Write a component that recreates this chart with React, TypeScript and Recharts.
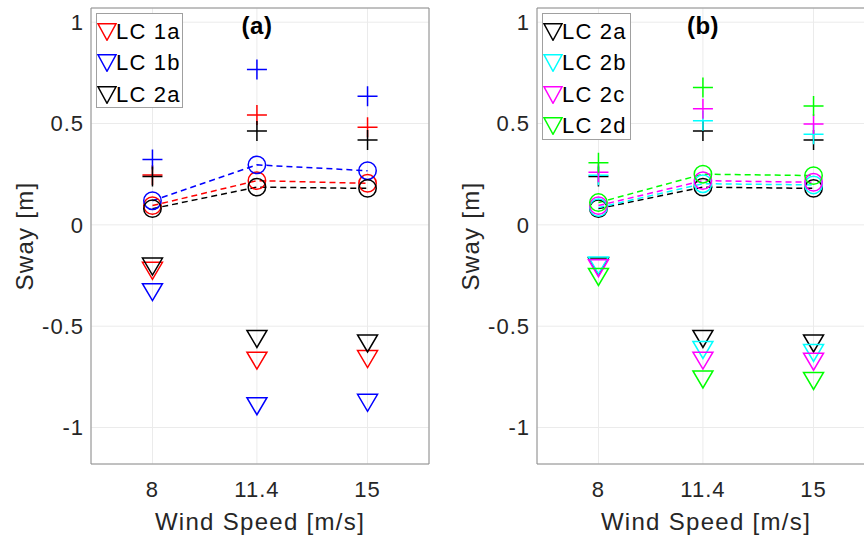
import { useMemo } from "react";
import {
  ComposedChart,
  Line,
  Scatter,
  XAxis,
  YAxis,
  CartesianGrid,
  ReferenceArea,
  Legend,
} from "recharts";

// wind speeds (x positions) and axis ticks
const speeds = [8, 11.4, 15];
const xTicks = [8, 11.4, 15];
const yTicks = [-1, -0.5, 0, 0.5, 1];

// LC 1a
const lc1aMean = [0.095, 0.218, 0.205];
const lc1aMax = [0.246, 0.542, 0.481];
const lc1aMin = [-0.227, -0.67, -0.662];
// LC 1b
const lc1bMean = [0.119, 0.296, 0.267];
const lc1bMax = [0.322, 0.767, 0.635];
const lc1bMin = [-0.332, -0.895, -0.878];
// LC 2a
const lc2aMean = [0.08, 0.186, 0.18];
const lc2aMax = [0.238, 0.463, 0.419];
const lc2aMin = [-0.206, -0.563, -0.585];
// LC 2b
const lc2bMean = [0.085, 0.203, 0.197];
const lc2bMax = [0.245, 0.514, 0.447];
const lc2bMin = [-0.2, -0.617, -0.632];
// LC 2c
const lc2cMean = [0.095, 0.218, 0.21];
const lc2cMax = [0.26, 0.573, 0.498];
const lc2cMin = [-0.214, -0.67, -0.675];
// LC 2d
const lc2dMean = [0.11, 0.25, 0.243];
const lc2dMax = [0.307, 0.678, 0.586];
const lc2dMin = [-0.257, -0.763, -0.77];

type Series = {
  key: string;
  name: string;
  color: string;
  mean: number[];
  max: number[];
  min: number[];
};

const lc1a: Series = { key: "lc1a", name: "LC 1a", color: "#ff0000", mean: lc1aMean, max: lc1aMax, min: lc1aMin };
const lc1b: Series = { key: "lc1b", name: "LC 1b", color: "#0000ff", mean: lc1bMean, max: lc1bMax, min: lc1bMin };
const lc2a: Series = { key: "lc2a", name: "LC 2a", color: "#000000", mean: lc2aMean, max: lc2aMax, min: lc2aMin };
const lc2b: Series = { key: "lc2b", name: "LC 2b", color: "#00ffff", mean: lc2bMean, max: lc2bMax, min: lc2bMin };
const lc2c: Series = { key: "lc2c", name: "LC 2c", color: "#ff00ff", mean: lc2cMean, max: lc2cMax, min: lc2cMin };
const lc2d: Series = { key: "lc2d", name: "LC 2d", color: "#00ff00", mean: lc2dMean, max: lc2dMax, min: lc2dMin };

const panelA = [lc1a, lc1b, lc2a];
const panelB = [lc2a, lc2b, lc2c, lc2d];

const TEXT = "#262626";
const FONT = "'Liberation Sans', Arial, Helvetica, sans-serif";
const X_DOMAIN: [number, number] = [6, 17];
const Y_DOMAIN: [number, number] = [-1.18, 1.07];

function buildRows(series: Series[]) {
  return speeds.map((x, i) => {
    const row: Record<string, number> = { x };
    for (const s of series) {
      row[`${s.key}Mean`] = s.mean[i];
      row[`${s.key}Max`] = s.max[i];
      row[`${s.key}Min`] = s.min[i];
    }
    return row;
  });
}

const plusShape = (color: string) => (p: any) => (
  <path
    d={`M${p.cx - 10},${p.cy}H${p.cx + 10}M${p.cx},${p.cy - 10}V${p.cy + 10}`}
    stroke={color}
    strokeWidth={1.5}
    fill="none"
  />
);

const triShape = (color: string) => (p: any) => (
  <path
    d={`M${p.cx - 10},${p.cy - 8.5}H${p.cx + 10}L${p.cx},${p.cy + 8.5}Z`}
    stroke={color}
    strokeWidth={1.5}
    fill="none"
  />
);

const circleDot = (color: string) => (p: any) => (
  <circle
    key={`c-${p.index}`}
    cx={p.cx}
    cy={p.cy}
    r={8.7}
    stroke={color}
    strokeWidth={1.5}
    fill="none"
  />
);

const swayLabel = (props: any) => {
  const vb = props.viewBox;
  const cx = vb.x + 33;
  const cy = vb.y + vb.height / 2;
  return (
    <text
      x={cx}
      y={cy}
      transform={`rotate(-90 ${cx} ${cy})`}
      textAnchor="middle"
      fill={TEXT}
      fontSize={24}
      letterSpacing={1.3}
    >
      Sway [m]
    </text>
  );
};

const windLabel = (props: any) => {
  const vb = props.viewBox;
  return (
    <text
      x={vb.x + vb.width / 2}
      y={vb.y + vb.height - 7}
      textAnchor="middle"
      fill={TEXT}
      fontSize={24}
      letterSpacing={1.3}
    >
      Wind Speed [m/s]
    </text>
  );
};

function LegendBox({ series, width }: { series: Series[]; width: number }) {
  const rowH = 31.6;
  const first = 19;
  const height = first + (series.length - 1) * rowH + 13.5;
  return (
    <div
      style={{
        position: "relative",
        width,
        height,
        border: "1px solid #a0a0a0",
        background: "#fff",
        boxSizing: "border-box",
        fontFamily: FONT,
        fontSize: 22,
        color: "#000",
      }}
    >
      {series.map((s, i) => (
        <div
          key={s.key}
          style={{
            position: "absolute",
            left: 0,
            top: first + i * rowH - rowH / 2 - 1,
            height: rowH,
            display: "flex",
            alignItems: "center",
          }}
        >
          <svg width={20} height={18}>
            <path d="M1,0.75H19L10,17.25Z" stroke={s.color} strokeWidth={1.5} fill="none" />
          </svg>
          <span style={{ marginLeft: -1, letterSpacing: 1.2, whiteSpace: "nowrap" }}>{s.name}</span>
        </div>
      ))}
    </div>
  );
}

function Panel({
  series,
  title,
  left,
  legendWidth,
}: {
  series: Series[];
  title: string;
  left: number;
  legendWidth: number;
}) {
  const data = useMemo(() => buildRows(series), [series]);
  return (
    <div style={{ position: "absolute", left, top: 0, width: 440, height: 537 }}>
      <ComposedChart
        width={440}
        height={537}
        data={data}
        margin={{ top: 8, right: 11, bottom: 0, left: 0 }}
      >
        <CartesianGrid stroke="#ebebeb" strokeWidth={1} />
        <XAxis
          type="number"
          dataKey="x"
          domain={X_DOMAIN}
          ticks={xTicks}
          allowDataOverflow
          height={73}
          tickSize={0}
          tickMargin={17}
          axisLine={false}
          tick={{ fill: TEXT, fontSize: 22, letterSpacing: 1 }}
          label={windLabel}
        />
        <YAxis
          type="number"
          domain={Y_DOMAIN}
          ticks={yTicks}
          allowDataOverflow
          width={91}
          tickSize={0}
          tickMargin={7}
          axisLine={false}
          tick={{ fill: TEXT, fontSize: 22, letterSpacing: 1 }}
          label={swayLabel}
        />
        <ReferenceArea
          x1={X_DOMAIN[0]}
          x2={X_DOMAIN[1]}
          y1={Y_DOMAIN[0]}
          y2={Y_DOMAIN[1]}
          fill="none"
          fillOpacity={0}
          stroke="#8c8c8c"
          strokeWidth={1}
        />
        {series.map((s) => [
          <Line
            key={`${s.key}-mean`}
            dataKey={`${s.key}Mean`}
            stroke={s.color}
            strokeWidth={1.5}
            strokeDasharray="6 4"
            dot={circleDot(s.color)}
            activeDot={false}
            isAnimationActive={false}
            legendType="none"
          />,
          <Scatter
            key={`${s.key}-max`}
            dataKey={`${s.key}Max`}
            shape={plusShape(s.color)}
            isAnimationActive={false}
            legendType="none"
          />,
          <Scatter
            key={`${s.key}-min`}
            dataKey={`${s.key}Min`}
            shape={triShape(s.color)}
            isAnimationActive={false}
            legendType="none"
          />,
        ])}
        <Legend
          layout="vertical"
          align="center"
          verticalAlign="middle"
          wrapperStyle={{ left: 96, top: 12.7, width: legendWidth }}
          content={() => <LegendBox series={series} width={legendWidth} />}
        />
      </ComposedChart>
      <div
        style={{
          position: "absolute",
          left: 207,
          top: 13.5,
          width: 100,
          textAlign: "center",
          fontFamily: FONT,
          fontWeight: "bold",
          fontSize: 24,
          lineHeight: "24px",
          letterSpacing: 0.5,
          color: "#000",
        }}
      >
        {title}
      </div>
    </div>
  );
}

export default function App() {
  return (
    <div
      style={{
        position: "absolute",
        left: 0,
        top: 0,
        width: 864,
        height: 537,
        overflow: "hidden",
        background: "#fff",
        fontFamily: FONT,
      }}
    >
      <Panel series={panelA} title="(a)" left={0} legendWidth={87} />
      <Panel series={panelB} title="(b)" left={446} legendWidth={89} />
    </div>
  );
}
